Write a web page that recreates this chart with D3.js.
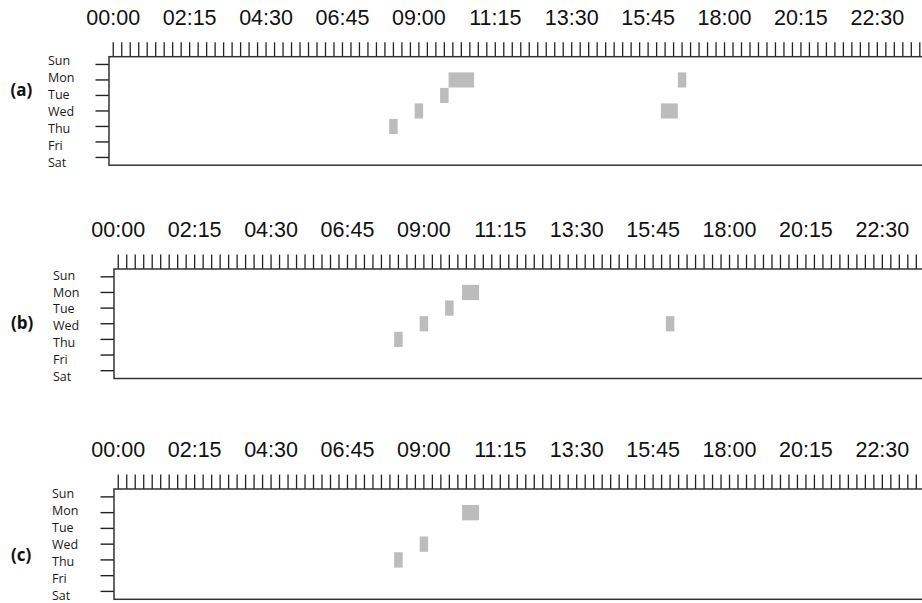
<!DOCTYPE html>
<html>
<head>
<meta charset="utf-8">
<script src="https://cdn.jsdelivr.net/npm/d3@7"></script>
<style>
  html, body { margin: 0; padding: 0; background: #fff; overflow: hidden; }
  svg { display: block; }
  .time-label { font-family: "Liberation Sans", Arial, sans-serif; font-size: 21.5px; fill: #111; }
  .day-label { font-family: "Open Sans", sans-serif; font-size: 12.5px; fill: #1a1a1a; }
  .panel-tag { font-family: "Open Sans", sans-serif; font-size: 17px; font-weight: 700; fill: #111; }
</style>
</head>
<body>
<svg id="chart" width="922" height="603"></svg>
<script>
// Weekly activity grids: one row per weekday, one column per 15-minute slot.
const days = ["Sun", "Mon", "Tue", "Wed", "Thu", "Fri", "Sat"];
const timeLabels = ["00:00", "02:15", "04:30", "06:45", "09:00", "11:15",
                    "13:30", "15:45", "18:00", "20:15", "22:30"];
const panelTags = ["(a)", "(b)", "(c)"];

// Active intervals: [day, start, end]
const activityA = [
  ["Thu", "08:15", "08:30"],
  ["Wed", "09:00", "09:15"],
  ["Tue", "09:45", "10:00"],
  ["Mon", "10:00", "10:45"],
  ["Wed", "16:15", "16:45"],
  ["Mon", "16:45", "17:00"]
];
const activityB = [
  ["Thu", "08:15", "08:30"],
  ["Wed", "09:00", "09:15"],
  ["Tue", "09:45", "10:00"],
  ["Mon", "10:15", "10:45"],
  ["Wed", "16:15", "16:30"]
];
const activityC = [
  ["Thu", "08:15", "08:30"],
  ["Wed", "09:00", "09:15"],
  ["Mon", "10:15", "10:45"]
];

const SLOT_MIN = 15;
const SLOTS = 24 * 60 / SLOT_MIN;
const CELL_W = 8.49;

const toMin = s => { const [h, m] = s.split(":").map(Number); return h * 60 + m; };
const fmt = m => String(Math.floor(m / 60)).padStart(2, "0") + ":" + String(m % 60).padStart(2, "0");
const slotKeys = d3.range(SLOTS).map(i => fmt(i * SLOT_MIN));

// Layout of each panel
const panels = [
  { tag: panelTags[0], data: activityA, left: 109, top: 56.7, bottom: 165.2,
    labelX: 48, labelTop: 61, labelBottom: 163, tagX: 10.5, tagY: 90 },
  { tag: panelTags[1], data: activityB, left: 114, top: 269, bottom: 378.5,
    labelX: 53, labelTop: 275.3, labelBottom: 376.7, tagX: 11, tagY: 323 },
  { tag: panelTags[2], data: activityC, left: 114, top: 489, bottom: 599.3,
    labelX: 52, labelTop: 493.3, labelBottom: 596, tagX: 11, tagY: 555 }
];

const svg = d3.select("#chart");

panels.forEach(p => {
  const g = svg.append("g");
  const right = p.left + SLOTS * CELL_W;

  const x = d3.scaleLinear().domain([0, 24 * 60]).range([p.left, right]);
  const slotBand = d3.scaleBand().domain(slotKeys).range([p.left, right]).padding(0);
  const y = d3.scaleBand().domain(days).range([p.top, p.bottom]).padding(0);
  const yLabel = d3.scalePoint().domain(days).range([p.labelTop, p.labelBottom]);

  // Activity cells
  g.append("g").selectAll("rect")
    .data(p.data)
    .join("rect")
    .attr("x", d => x(toMin(d[1])))
    .attr("width", d => x(toMin(d[2])) - x(toMin(d[1])))
    .attr("y", d => y(d[0]) + 0.2)
    .attr("height", y.bandwidth() - 0.4)
    .attr("fill", "#bcbcbc");

  // Top time axis: tick at the middle of every slot, label every 2h15
  const labelSet = new Set(timeLabels);
  const xAxis = d3.axisTop(slotBand)
    .tickSize(14.4)
    .tickSizeOuter(0)
    .tickPadding(17.5)
    .tickFormat(k => labelSet.has(k) ? k : "");
  const ax = g.append("g").attr("transform", `translate(0,${p.top})`).call(xAxis);
  ax.select(".domain").remove();
  ax.selectAll(".tick line").attr("stroke", "#222").attr("stroke-width", 1.3);
  ax.selectAll(".tick text").attr("class", "time-label").attr("font-family", null).attr("font-size", null);

  // Left day axis: tick marks only
  const yAxis = d3.axisLeft(y).tickSize(13.5).tickSizeOuter(0).tickFormat("");
  const ay = g.append("g").attr("transform", `translate(${p.left},0)`).call(yAxis);
  ay.select(".domain").remove();
  ay.selectAll(".tick line").attr("stroke", "#222").attr("stroke-width", 1.4);

  // Day names
  g.append("g").selectAll("text")
    .data(days)
    .join("text")
    .attr("class", "day-label")
    .attr("x", p.labelX)
    .attr("y", d => yLabel(d))
    .attr("dy", "0.35em")
    .text(d => d);

  // Frame
  g.append("rect")
    .attr("x", p.left)
    .attr("y", p.top)
    .attr("width", right - p.left)
    .attr("height", p.bottom - p.top)
    .attr("fill", "none")
    .attr("stroke", "#333")
    .attr("stroke-width", 1.5);

  // Panel tag
  g.append("text")
    .attr("class", "panel-tag")
    .attr("x", p.tagX)
    .attr("y", p.tagY)
    .attr("dy", "0.35em")
    .text(p.tag);
});
</script>
</body>
</html>
